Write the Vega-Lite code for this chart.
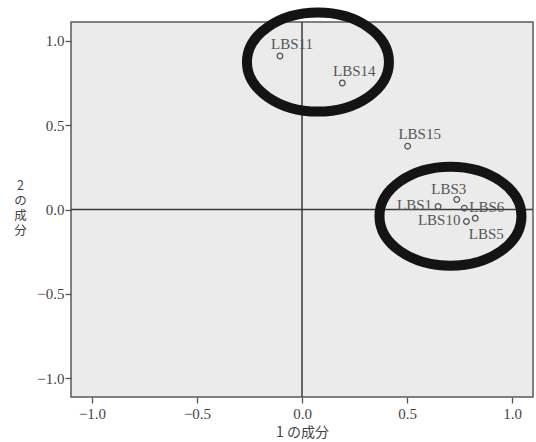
{
  "$schema": "https://vega.github.io/schema/vega-lite/v6.json",
  "width": 462,
  "height": 375,
  "autosize": {"type": "none"},
  "padding": {"left": 71, "top": 22, "right": 3, "bottom": 45},
  "background": "white",
  "config": {
    "view": {"fill": "#ebebeb", "stroke": "#5a5a5a", "strokeWidth": 1.5},
    "font": "Liberation Serif"
  },
  "datasets": {
    "pts": [
      {"name": "LBS11", "c1": -0.105, "c2": 0.909, "pos": "ne"},
      {"name": "LBS14", "c1": 0.192, "c2": 0.749, "pos": "ne"},
      {"name": "LBS15", "c1": 0.503, "c2": 0.375, "pos": "ne"},
      {"name": "LBS3", "c1": 0.737, "c2": 0.059, "pos": "nw"},
      {"name": "LBS1", "c1": 0.648, "c2": 0.018, "pos": "w"},
      {"name": "LBS6", "c1": 0.773, "c2": 0.008, "pos": "e"},
      {"name": "LBS10", "c1": 0.783, "c2": -0.071, "pos": "w"},
      {"name": "LBS5", "c1": 0.825, "c2": -0.052, "pos": "se"}
    ],
    "rings": [
      {"c1": 0.076, "c2": 0.873},
      {"c1": 0.707, "c2": -0.04}
    ],
    "zero": [{"v": 0}]
  },
  "layer": [
    {
      "data": {"name": "zero"},
      "mark": {"type": "rule", "color": "#3a3a3a", "strokeWidth": 1.5},
      "encoding": {"x": {"field": "v", "type": "quantitative", "scale": {"domain": [-1.1, 1.1], "nice": false, "zero": false}}}
    },
    {
      "data": {"name": "zero"},
      "mark": {"type": "rule", "color": "#3a3a3a", "strokeWidth": 1.5},
      "encoding": {"y": {"field": "v", "type": "quantitative", "scale": {"domain": [-1.11, 1.11], "nice": false, "zero": false}}}
    },
    {
      "data": {"name": "pts"},
      "mark": {"type": "point", "shape": "circle", "filled": false, "size": 32, "stroke": "#555555", "strokeWidth": 1.3, "opacity": 1},
      "encoding": {
        "x": {
          "field": "c1", "type": "quantitative",
          "scale": {"domain": [-1.1, 1.1], "nice": false, "zero": false},
          "axis": {
            "title": "1 の成分", "values": [-1, -0.5, 0, 0.5, 1], "format": ".1f",
            "grid": false, "domain": false, "ticks": true, "tickSize": 6, "tickColor": "#555555", "tickWidth": 1.3,
            "labelFont": "Liberation Serif", "labelFontSize": 15, "labelColor": "#444444", "labelPadding": 3,
            "titleFont": "Noto Sans CJK JP", "titleFontSize": 14, "titleFontWeight": "normal", "titleColor": "#444444", "titlePadding": 4
          }
        },
        "y": {
          "field": "c2", "type": "quantitative",
          "scale": {"domain": [-1.11, 1.11], "nice": false, "zero": false},
          "axis": {
            "title": ["2", "の", "成", "分"], "values": [-1, -0.5, 0, 0.5, 1], "format": ".1f",
            "grid": false, "domain": false, "ticks": true, "tickSize": 6, "tickColor": "#555555", "tickWidth": 1.3,
            "labelFont": "Liberation Serif", "labelFontSize": 15, "labelColor": "#444444", "labelPadding": 1,
            "titleFont": "Noto Sans CJK JP", "titleFontSize": 12.5, "titleFontWeight": "normal", "titleColor": "#444444",
            "titleAngle": 0, "titleAlign": "center", "titleBaseline": "middle", "titleLineHeight": 15,
            "titleX": -51, "titleY": 163
          }
        }
      }
    },
    {
      "data": {"name": "pts"},
      "transform": [{"filter": "datum.pos == 'ne'"}],
      "mark": {"type": "text", "font": "Liberation Serif", "fontSize": 15, "color": "#555555", "align": "center", "baseline": "middle", "dx": 12, "dy": -12},
      "encoding": {
        "x": {"field": "c1", "type": "quantitative"},
        "y": {"field": "c2", "type": "quantitative"},
        "text": {"field": "name"}
      }
    },
    {
      "data": {"name": "pts"},
      "transform": [{"filter": "datum.pos == 'nw'"}],
      "mark": {"type": "text", "font": "Liberation Serif", "fontSize": 15, "color": "#555555", "align": "center", "baseline": "middle", "dx": -8, "dy": -11},
      "encoding": {
        "x": {"field": "c1", "type": "quantitative"},
        "y": {"field": "c2", "type": "quantitative"},
        "text": {"field": "name"}
      }
    },
    {
      "data": {"name": "pts"},
      "transform": [{"filter": "datum.pos == 'w'"}],
      "mark": {"type": "text", "font": "Liberation Serif", "fontSize": 15, "color": "#555555", "align": "right", "baseline": "middle", "dx": -6, "dy": -1},
      "encoding": {
        "x": {"field": "c1", "type": "quantitative"},
        "y": {"field": "c2", "type": "quantitative"},
        "text": {"field": "name"}
      }
    },
    {
      "data": {"name": "pts"},
      "transform": [{"filter": "datum.pos == 'e'"}],
      "mark": {"type": "text", "font": "Liberation Serif", "fontSize": 15, "color": "#555555", "align": "left", "baseline": "middle", "dx": 5, "dy": -1},
      "encoding": {
        "x": {"field": "c1", "type": "quantitative"},
        "y": {"field": "c2", "type": "quantitative"},
        "text": {"field": "name"}
      }
    },
    {
      "data": {"name": "pts"},
      "transform": [{"filter": "datum.pos == 'se'"}],
      "mark": {"type": "text", "font": "Liberation Serif", "fontSize": 15, "color": "#555555", "align": "center", "baseline": "middle", "dx": 11, "dy": 16},
      "encoding": {
        "x": {"field": "c1", "type": "quantitative"},
        "y": {"field": "c2", "type": "quantitative"},
        "text": {"field": "name"}
      }
    },
    {
      "data": {"name": "rings"},
      "mark": {
        "type": "point", "filled": false, "size": 20164, "stroke": "#141414", "strokeWidth": 10, "opacity": 1,
        "shape": "M1,0 C1,0.385 0.5523,0.697 0,0.697 C-0.5523,0.697 -1,0.385 -1,0 C-1,-0.385 -0.5523,-0.697 0,-0.697 C0.5523,-0.697 1,-0.385 1,0 Z"
      },
      "encoding": {
        "x": {"field": "c1", "type": "quantitative"},
        "y": {"field": "c2", "type": "quantitative"}
      }
    }
  ]
}
